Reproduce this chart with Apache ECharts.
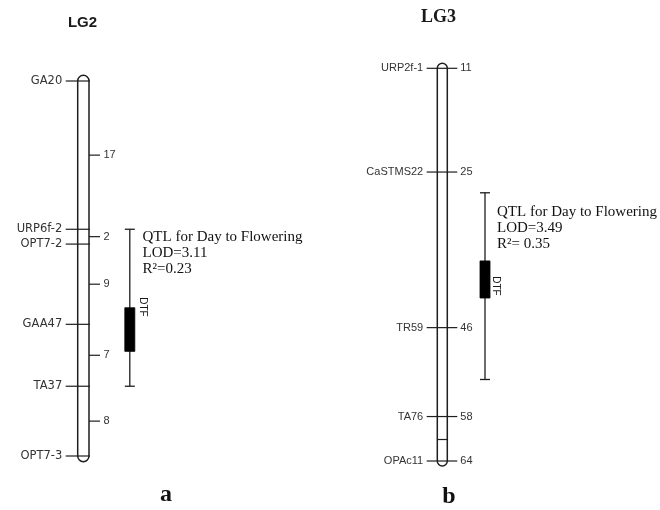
<!DOCTYPE html>
<html><head><meta charset="utf-8">
<script src="https://cdn.jsdelivr.net/npm/echarts@6/dist/echarts.min.js"></script>
<style>html,body{margin:0;padding:0;background:#fff}#c{width:660px;height:510px}</style>
</head><body><div id="c"></div>
<script>
// ---------- LG2 (positions in cM from top) ----------
const lg2Markers = ['GA20', 'URP6f-2', 'OPT7-2', 'GAA47', 'TA37', 'OPT7-3'];
const lg2Positions = [0, 17, 18.7, 27.9, 35, 43];
const lg2IntervalLabels = ['17', '2', '9', '7', '8'];
const lg2Qtl = [17, 26, 31, 35];            // support start, peak start, peak end, support end
const lg2QtlText = ['QTL for Day to Flowering', 'LOD=3.11', 'R\u00B2=0.23'];
const lg2QtlName = 'DTF';

// ---------- LG3 ----------
const lg3Markers = ['URP2f-1', 'CaSTMS22', 'TR59', 'TA76', 'OPAc11'];
const lg3Positions = [11, 25, 46, 58, 64];
const lg3PositionLabels = ['11', '25', '46', '58', '64'];
const lg3Unlabelled = [61.1];
const lg3Qtl = [27.8, 37, 42, 53];
const lg3QtlText = ['QTL for Day to Flowering', 'LOD=3.49', 'R\u00B2= 0.35'];
const lg3QtlName = 'DTF';

const LINE = '#1e1e1e';
const TXT = '#333';
const SANS = '"Liberation Sans", Arial, sans-serif';
const WIDE = '"DejaVu Sans", sans-serif';
const SERIF = '"Liberation Serif", "Times New Roman", serif';

function chromRender(params, api) {
  const a = api.coord([0, api.value(0)]);
  const b = api.coord([1, api.value(1)]);
  const w = b[0] - a[0], r = w / 2;
  return {
    type: 'rect',
    shape: { x: a[0], y: a[1] - r, width: w, height: b[1] - a[1] + 2 * r, r: r },
    style: { fill: '#fff', stroke: LINE, lineWidth: 1.5 }
  };
}

function markerRender(names, rightLabels, leftExt, rightExt, leftFont, rightFont) {
  return function (params, api) {
    const i = params.dataIndex;
    const p = api.coord([0, api.value(0)]);
    const q = api.coord([1, api.value(0)]);
    const children = [{
      type: 'line',
      shape: { x1: p[0] - leftExt, y1: p[1], x2: q[0] + rightExt, y2: p[1] },
      style: { stroke: LINE, lineWidth: 1.2 }
    }];
    if (names && names[i]) children.push({
      type: 'text', x: p[0] - leftExt - 3.5, y: p[1],
      style: { text: names[i], align: 'right', verticalAlign: 'middle', fill: TXT, font: leftFont }
    });
    if (rightLabels && rightLabels[i]) children.push({
      type: 'text', x: q[0] + rightExt + 3, y: p[1],
      style: { text: rightLabels[i], align: 'left', verticalAlign: 'middle', fill: TXT, font: rightFont }
    });
    return { type: 'group', children: children };
  };
}

function innerRender(params, api) {
  const p = api.coord([0, api.value(0)]);
  const q = api.coord([1, api.value(0)]);
  return { type: 'line', shape: { x1: p[0], y1: p[1], x2: q[0], y2: p[1] }, style: { stroke: LINE, lineWidth: 1.2 } };
}

function intervalRender(labels) {
  return function (params, api) {
    const i = params.dataIndex;
    const q = api.coord([1, api.value(0)]);
    return { type: 'group', children: [
      { type: 'line', shape: { x1: q[0], y1: q[1], x2: q[0] + 11, y2: q[1] }, style: { stroke: LINE, lineWidth: 1.2 } },
      { type: 'text', x: q[0] + 14.5, y: q[1], style: { text: labels[i], align: 'left', verticalAlign: 'middle', fill: TXT, font: '11px ' + SANS } }
    ]};
  };
}

function qtlRender(offset) {
  return function (params, api) {
    const top = api.coord([1, api.value(0)]);
    const b1 = api.coord([1, api.value(1)]);
    const b2 = api.coord([1, api.value(2)]);
    const bot = api.coord([1, api.value(3)]);
    const x = top[0] + offset;
    return { type: 'group', children: [
      { type: 'line', shape: { x1: x, y1: top[1], x2: x, y2: bot[1] }, style: { stroke: LINE, lineWidth: 1.3 } },
      { type: 'line', shape: { x1: x - 5, y1: top[1], x2: x + 5, y2: top[1] }, style: { stroke: LINE, lineWidth: 1.3 } },
      { type: 'line', shape: { x1: x - 5, y1: bot[1], x2: x + 5, y2: bot[1] }, style: { stroke: LINE, lineWidth: 1.3 } },
      { type: 'rect', shape: { x: x - 5, y: b1[1], width: 10, height: b2[1] - b1[1] }, style: { fill: '#000', stroke: '#000', lineWidth: 0.8 } }
    ]};
  };
}

const lg2Mid = [];
for (let i = 0; i < lg2IntervalLabels.length; i++) lg2Mid.push([(lg2Positions[i] + lg2Positions[i + 1]) / 2]);

const chart = echarts.init(document.getElementById('c'), null, { renderer: 'canvas' });
chart.setOption({
  animation: false,
  backgroundColor: '#fff',
  grid: [
    { left: 77.7, width: 11.3, top: 81, height: 375 },
    { left: 437.3, width: 10, top: 68.3, height: 392.7 }
  ],
  xAxis: [
    { gridIndex: 0, type: 'value', min: 0, max: 1, show: false },
    { gridIndex: 1, type: 'value', min: 0, max: 1, show: false }
  ],
  yAxis: [
    { gridIndex: 0, type: 'value', min: lg2Positions[0], max: lg2Positions[lg2Positions.length - 1], inverse: true, show: false },
    { gridIndex: 1, type: 'value', min: lg3Positions[0], max: lg3Positions[lg3Positions.length - 1], inverse: true, show: false }
  ],
  series: [
    { type: 'custom', xAxisIndex: 0, yAxisIndex: 0, clip: false, renderItem: chromRender,
      data: [[lg2Positions[0], lg2Positions[lg2Positions.length - 1]]] },
    { type: 'custom', xAxisIndex: 0, yAxisIndex: 0, clip: false,
      renderItem: markerRender(lg2Markers, null, 12, 1, '11.5px ' + WIDE, '11px ' + SANS),
      data: lg2Positions.map(v => [v]) },
    { type: 'custom', xAxisIndex: 0, yAxisIndex: 0, clip: false, renderItem: intervalRender(lg2IntervalLabels),
      data: lg2Mid },
    { type: 'custom', xAxisIndex: 0, yAxisIndex: 0, clip: false, renderItem: qtlRender(40.8),
      data: [lg2Qtl] },

    { type: 'custom', xAxisIndex: 1, yAxisIndex: 1, clip: false, renderItem: chromRender,
      data: [[lg3Positions[0], lg3Positions[lg3Positions.length - 1]]] },
    { type: 'custom', xAxisIndex: 1, yAxisIndex: 1, clip: false,
      renderItem: markerRender(lg3Markers, lg3PositionLabels, 10.6, 10, '11px ' + SANS, '11px ' + SANS),
      data: lg3Positions.map(v => [v]) },
    { type: 'custom', xAxisIndex: 1, yAxisIndex: 1, clip: false, renderItem: innerRender,
      data: lg3Unlabelled.map(v => [v]) },
    { type: 'custom', xAxisIndex: 1, yAxisIndex: 1, clip: false, renderItem: qtlRender(37.7),
      data: [lg3Qtl] }
  ],
  graphic: [
    { type: 'text', x: 82.5, y: 23, style: { text: 'LG2', align: 'center', verticalAlign: 'middle', fill: '#1a1a1a', font: 'bold 15px ' + SANS } },
    { type: 'text', x: 438.5, y: 17, style: { text: 'LG3', align: 'center', verticalAlign: 'middle', fill: '#1a1a1a', font: 'bold 18px ' + SERIF } },
    { type: 'text', x: 142.5, y: 229.5, style: { text: lg2QtlText.join('\n'), align: 'left', verticalAlign: 'top', lineHeight: 16, fill: '#111', font: '15px ' + SERIF } },
    { type: 'text', x: 497, y: 204.5, style: { text: lg3QtlText.join('\n'), align: 'left', verticalAlign: 'top', lineHeight: 16, fill: '#111', font: '15px ' + SERIF } },
    { type: 'text', x: 142.5, y: 307, rotation: -Math.PI / 2, style: { text: lg2QtlName, align: 'center', verticalAlign: 'middle', fill: '#1a1a1a', font: '10px ' + SANS } },
    { type: 'text', x: 496, y: 286, rotation: -Math.PI / 2, style: { text: lg3QtlName, align: 'center', verticalAlign: 'middle', fill: '#1a1a1a', font: '10px ' + SANS } },
    { type: 'text', x: 166, y: 495, style: { text: 'a', align: 'center', verticalAlign: 'middle', fill: '#111', font: 'bold 24px ' + SERIF } },
    { type: 'text', x: 449, y: 497, style: { text: 'b', align: 'center', verticalAlign: 'middle', fill: '#111', font: 'bold 24px ' + SERIF } }
  ]
});
</script>
</body></html>
